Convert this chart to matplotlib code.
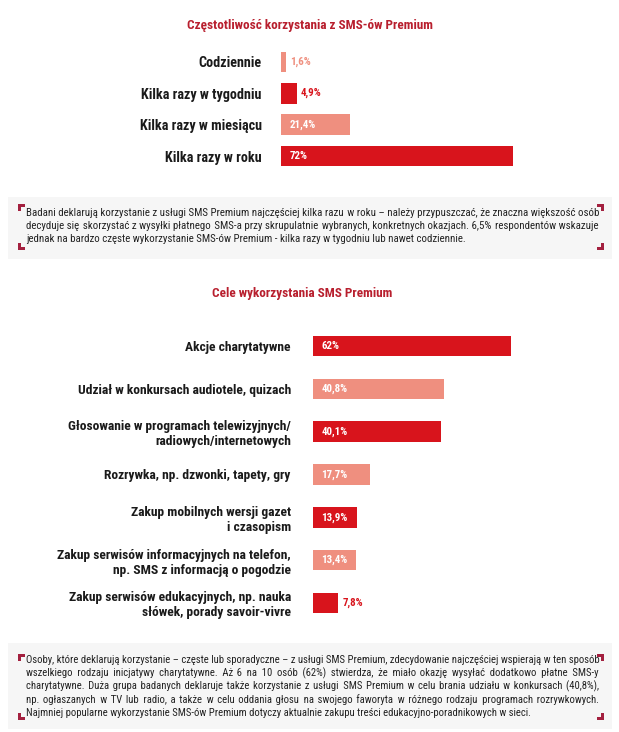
import matplotlib
matplotlib.use('Agg')
import matplotlib.pyplot as plt
from matplotlib.patches import Rectangle

# ---------------- data ----------------
freq_categories = ["Codziennie", "Kilka razy w tygodniu", "Kilka razy w miesiącu", "Kilka razy w roku"]
freq_values = [1.6, 4.9, 21.4, 72]

goal_categories = [
    "Akcje charytatywne",
    "Udział w konkursach audiotele, quizach",
    "Głosowanie w programach telewizyjnych/\nradiowych/internetowych",
    "Rozrywka, np. dzwonki, tapety, gry",
    "Zakup mobilnych wersji gazet\ni czasopism",
    "Zakup serwisów informacyjnych na telefon,\nnp. SMS z informacją o pogodzie",
    "Zakup serwisów edukacyjnych, np. nauka\nsłówek, porady savoir-vivre",
]
goal_values = [62, 40.8, 40.1, 17.7, 13.9, 13.4, 7.8]

title_top = "Częstotliwość korzystania z SMS-ów Premium"
title_bottom = "Cele wykorzystania SMS Premium"

para_top = [
    "Badani deklarują korzystanie z usługi SMS Premium najczęściej kilka razu w roku – należy przypuszczać, że znaczna większość osób",
    "decyduje się skorzystać z wysyłki płatnego SMS-a przy skrupulatnie wybranych, konkretnych okazjach. 6,5% respondentów wskazuje",
    "jednak na bardzo częste wykorzystanie SMS-ów Premium - kilka razy w tygodniu lub nawet codziennie.",
]
para_bottom = [
    "Osoby, które deklarują korzystanie – częste lub sporadyczne – z usługi SMS Premium, zdecydowanie najczęściej wspierają w ten sposób",
    "wszelkiego rodzaju inicjatywy charytatywne. Aż 6 na 10 osób (62%) stwierdza, że miało okazję wysyłać dodatkowo płatne SMS-y",
    "charytatywne. Duża grupa badanych deklaruje także korzystanie z usługi SMS Premium w celu brania udziału w konkursach (40,8%),",
    "np. ogłaszanych w TV lub radio, a także w celu oddania głosu na swojego faworyta w różnego rodzaju programach rozrywkowych.",
    "Najmniej popularne wykorzystanie SMS-ów Premium dotyczy aktualnie zakupu treści edukacyjno-poradnikowych w sieci.",
]

# ---------------- style ----------------
DARK = "#d8141c"
LIGHT = "#ef8f7f"
TITLE_C = "#b81f2e"
CORNER_C = "#a3203f"
BOX_C = "#f6f6f6"
TXT = "#222222"
FONT = ['Roboto Condensed', 'Lato', 'DejaVu Sans']
plt.rcParams['font.family'] = FONT

W, H = 619, 732
fig = plt.figure(figsize=(W / 100, H / 100), dpi=100)
fig.patch.set_facecolor("white")


def rect(x0, y0, x1, y1):
    return [x0 / W, 1 - y1 / H, (x1 - x0) / W, (y1 - y0) / H]


bg = fig.add_axes([0, 0, 1, 1], zorder=-1)
bg.set_xlim(0, W)
bg.set_ylim(H, 0)
bg.axis("off")

renderer = fig.canvas.get_renderer()


def text_width(s, size):
    t = bg.text(0, 0, s, fontsize=size)
    w = t.get_window_extent(renderer).width
    t.remove()
    return w


def justify_line(line, size, target):
    """Justify a line in one text object by adding small space characters."""
    words = line.split(" ")
    gaps = len(words) - 1
    if gaps < 1:
        return line
    base = text_width("aa", size)
    filler = " "
    for ch in ("\u200a", "\u2009", " "):
        fw = (text_width("a" + ch * 10 + "a", size) - base) / 10
        if fw > 0.4:
            filler = ch
            break
    extra = int(round((target - text_width(line, size)) / fw))
    if extra <= 0:
        return line
    counts = [0] * gaps
    for k in range(extra):
        counts[int((k + 0.5) * gaps / extra) % gaps] += 1
    out = words[0]
    for c, wd in zip(counts, words[1:]):
        out += " " + filler * c + wd
    return out


def text_box(y0, y1, cy0, cy1, lines, ly0, dy):
    bg.add_patch(Rectangle((8, y0), 604, y1 - y0, color=BOX_C, lw=0))
    t, a = 2.6, 7
    xl, xr = 18, 604
    for (x, y, w, h) in [(xl, cy0, a, t), (xl, cy0, t, a),
                         (xr - a, cy0, a, t), (xr - t, cy0, t, a),
                         (xl, cy1 - t, a, t), (xl, cy1 - a, t, a),
                         (xr - a, cy1 - t, a, t), (xr - t, cy1 - a, t, a)]:
        bg.add_patch(Rectangle((x, y), w, h, color=CORNER_C, lw=0))
    size = 7.9
    x0, x1 = 26, 599
    w0 = text_width(lines[0], size)
    if w0 > x1 - x0:
        size = size * (x1 - x0) / w0
    for i, ln in enumerate(lines):
        s = justify_line(ln, size, x1 - x0) if i < len(lines) - 1 else ln
        bg.text(x0, ly0 + i * dy, s, fontsize=size, color=TXT, va="baseline", ha="left")


text_box(197, 259, 204, 250, para_top, 216, 13)
text_box(643, 729, 654, 720, para_bottom, 663, 13.3)

bg.text(310, 26, title_top, fontsize=9.5, fontweight="bold", color=TITLE_C, ha="center", va="center")
bg.text(302, 294, title_bottom, fontsize=9.5, fontweight="bold", color=TITLE_C, ha="center", va="center")


def fmt(v):
    return f"{v:g}".replace(".", ",") + "%"


def bar_chart(ax, cats, vals, colors, height, pad, lsize):
    y = list(range(len(cats)))
    ax.barh(y, vals, height=height, color=colors, lw=0)
    ax.set_ylim(len(cats) - 0.5, -0.5)
    ax.set_yticks(y, cats)
    ax.tick_params(axis="y", length=0, pad=pad, labelsize=lsize)
    for lab in ax.get_yticklabels():
        lab.set_fontweight("bold")
        lab.set_color("#1a1a1a")
    ax.set_xticks([])
    for s in ax.spines.values():
        s.set_visible(False)
    ax.patch.set_alpha(0)
    for yi, v, c in zip(y, vals, colors):
        if v < 10:
            ax.annotate(fmt(v), (v, yi), xytext=(3, 0), textcoords="offset points",
                        va="center", ha="left", fontsize=7.8, fontweight="bold", color=c)
        else:
            ax.annotate(fmt(v), (0, yi), xytext=(6, 0), textcoords="offset points",
                        va="center", ha="left", fontsize=7.8, fontweight="bold", color="white")


ax1 = fig.add_axes(rect(281, 46.3, 603, 171.7))
ax1.set_xlim(0, 100)
bar_chart(ax1, freq_categories, freq_values, [LIGHT, DARK, LIGHT, DARK], 0.66, 14, 10.2)

ax2 = fig.add_axes(rect(313, 324.6, 601, 624.4))
ax2.set_xlim(0, 90)
bar_chart(ax2, goal_categories, goal_values,
          [DARK, LIGHT, DARK, LIGHT, DARK, LIGHT, DARK], 0.48, 16, 9.7)

fig.savefig("out.png", dpi=100)
